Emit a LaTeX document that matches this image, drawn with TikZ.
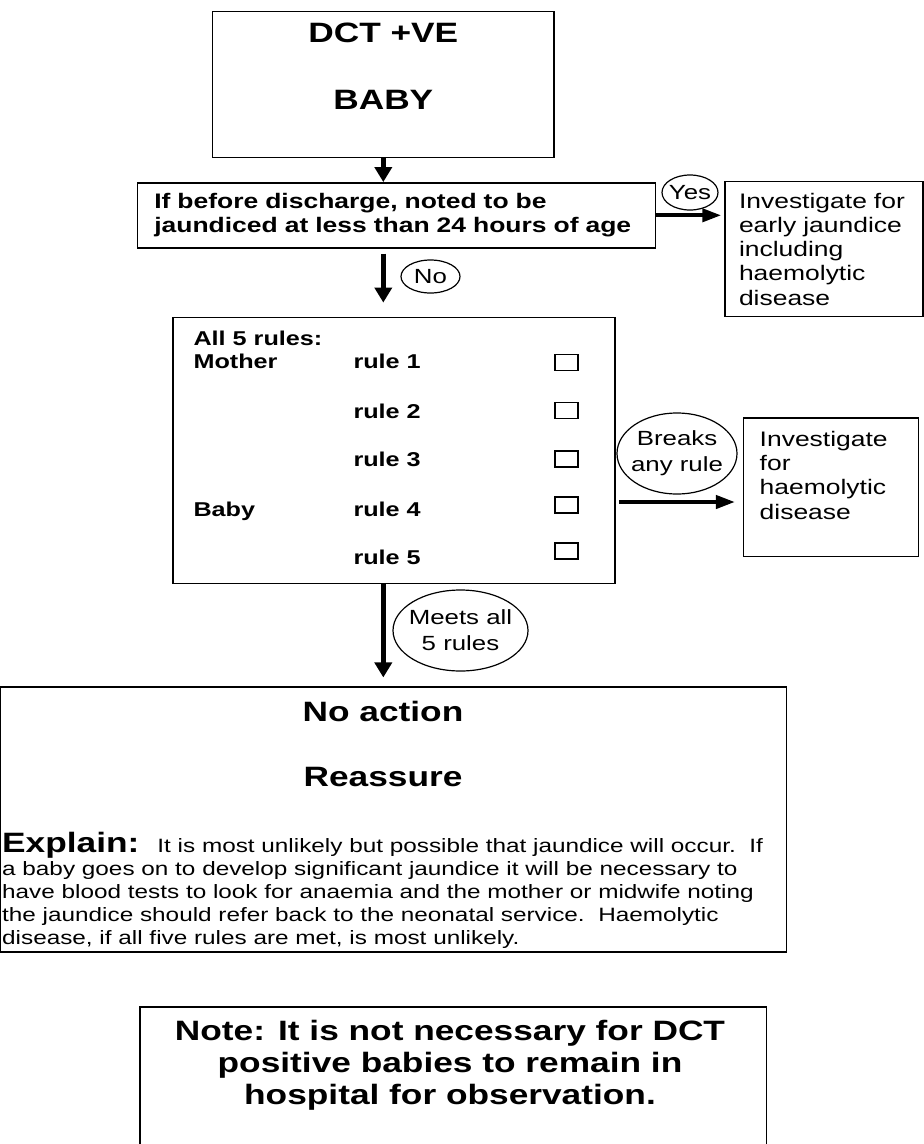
\documentclass[tikz,border=0pt]{standalone}
\usepackage{fontspec}
\setmainfont{Liberation Sans}[FakeStretch=1.26]
\usetikzlibrary{arrows.meta,shapes,positioning}

\newcommand{\titlefont}{\fontsize{28}{32}\selectfont\bfseries}
\newcommand{\condfont}{\fontsize{21}{24.5}\selectfont\bfseries}
\newcommand{\rulefont}{\fontsize{20}{23.4}\selectfont\bfseries}
\newcommand{\infofont}{\fontsize{21}{24.2}\selectfont}
\newcommand{\tagfont}{\fontsize{20.5}{26}\selectfont}
\newcommand{\explfont}{\fontsize{19.3}{23}\selectfont}

\begin{document}
\begin{tikzpicture}[x=1pt,y=-1pt,
  box/.style={draw, line width=1.5pt, inner sep=0pt},
  tag/.style={draw, ellipse, line width=1.2pt, inner sep=0pt, align=center, font=\tagfont},
  tick/.style={draw, line width=1.2pt, minimum width=23pt, minimum height=16pt, inner sep=0pt},
  vflow/.style={-{Triangle[length=15pt,width=17pt]}, line width=5pt},
  hflow/.style={-{Triangle[length=19pt,width=13pt]}, line width=4pt}]
\useasboundingbox (0,0) rectangle (924,1144);

% start
\node[box, minimum width=341.5pt, minimum height=145.6pt] (dct) at (383.3,84.5) {};
\node[font=\titlefont] (dcttxt) at (383.3,33.3) {DCT +VE};
\node[font=\titlefont] (babytxt) at (383.3,100) {BABY};

% jaundiced < 24 h
\node[box, font=\condfont, align=left, text width=484pt, inner xsep=17pt, minimum height=65pt] (cond) at (396.3,215.3) {If before discharge, noted to be\\jaundiced at less than 24 hours of age};
\node[box, font=\infofont, align=left, text width=170pt, inner xsep=14pt, minimum height=135pt] (early) at (824,249.2) {Investigate for\\early jaundice\\including\\haemolytic\\disease};
\node[tag, inner xsep=-3pt, minimum width=56pt, minimum height=35pt] (yes) at (690,192.5) {Yes};
\node[tag, minimum width=59pt, minimum height=33pt] (no) at (430.5,276.5) {No};

% the 5 rules
\node[box, minimum width=442pt, minimum height=266pt] (rules) at (394,450.3) {};
\node[font=\rulefont, anchor=base west] (all) at (190,345.5) {All 5 rules:};
\node[font=\rulefont, anchor=base west] (mother) at (190,368.9) {Mother};
\node[font=\rulefont, anchor=base west] (baby) at (190,516.2) {Baby};
\foreach \i/\ty/\cy in {1/361.7/362.7, 2/411/410.7, 3/459/459, 4/509/505, 5/557/551} {
  \node[font=\rulefont, anchor=base west] (rule\i) at (350,\ty+7.2) {rule \i};
  \node[tick] (tick\i) at (566.5,\cy) {};
}
\node[box, font=\infofont, align=left, text width=143pt, inner xsep=16pt, minimum height=138.7pt] (haemo) at (831.2,487.3) {Investigate\\for\\haemolytic\\disease\\\mbox{}};
\node[tag, inner xsep=-5pt, minimum width=120pt, minimum height=81pt] (breaks) at (677,453.5) {Breaks\\any rule};
\node[tag, inner xsep=-6pt, minimum width=135pt, minimum height=81pt] (meets) at (460.5,630.5) {Meets all\\5 rules};

% no action
\node[box, minimum width=786pt, minimum height=265pt] (advice) at (393.5,819.7) {};
\node[font=\titlefont] (noaction) at (383,711.7) {No action};
\node[font=\titlefont] (reassure) at (383,776.7) {Reassure};
\node[font=\explfont, align=left, anchor=base west, inner sep=0pt] (explain) at (2,944) {{\titlefont Explain:}\hspace{18pt}It is most unlikely but possible that jaundice will occur.\ \ If\\a baby goes on to develop significant jaundice it will be necessary to\\have blood tests to look for anaemia and the mother or midwife noting\\the jaundice should refer back to the neonatal service.\ \ Haemolytic\\disease, if all five rules are met, is most unlikely.};

% note
\node[box, minimum width=626.5pt, minimum height=170pt, anchor=north] (note) at (453.3,1006) {};
\node[font=\titlefont, align=center] (notetxt) at (450,1065) {Note: It is not necessary for DCT\\positive babies to remain in\\hospital for observation.};

% arrows
\draw[vflow] (dct.south) -- (dct.south |- cond.north);
\draw[vflow, shorten <=5pt, shorten >=14pt] (dct.south |- cond.south) -- (dct.south |- rules.north);
\draw[hflow, shorten >=3pt] (cond.east) -- (cond.east -| early.west);
\draw[hflow, shorten <=3pt, shorten >=8pt] ([yshift=-51.7pt]rules.east) -- ([yshift=-51.7pt]rules.east -| haemo.west);
\draw[vflow, shorten >=9pt] (rules.south -| dct.south) -- (dct.south |- advice.north);

\end{tikzpicture}
\end{document}
